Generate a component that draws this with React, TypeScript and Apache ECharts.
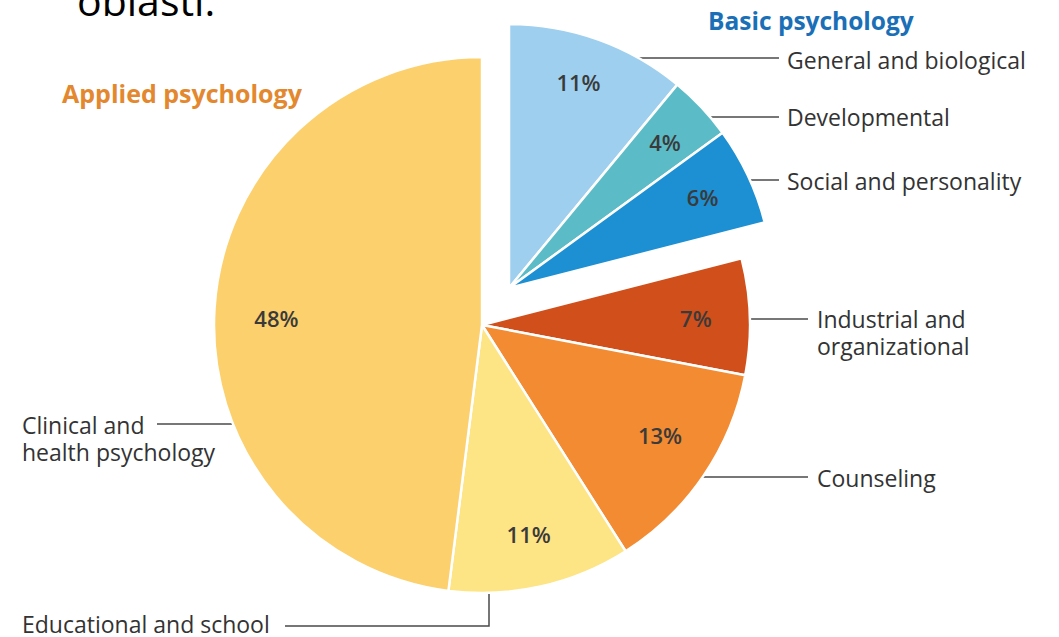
import React, { useEffect, useRef } from "react";
import * as echarts from "echarts";

// ---- data ----
const categories = [
  "General and biological",
  "Developmental",
  "Social and personality",
  "Industrial and organizational",
  "Counseling",
  "Educational and school",
  "Clinical and health psychology",
];
const groups = ["basic", "basic", "basic", "applied", "applied", "applied", "applied"];
const values = [11, 4, 6, 7, 13, 11, 48];
const sliceColors = ["#9ecfee", "#5bbcc7", "#1d8fd3", "#d04f1b", "#f28b32", "#fde485", "#fcd06d"];
const groupTitles = ["Basic psychology", "Applied psychology"];

const FONT = "'Open Sans', 'Noto Sans', sans-serif";
const TXT = "#333333";
const LINE = "#4a4a4a";

const APPLIED_CENTER = [482, 325];
const BASIC_CENTER = [509, 288];
const labelOffsets: Record<number, number[]> = { 4: [1, -10], 6: [8, 6], 0: [-3, -5] };

function pieData(group: string, visible: boolean, withLabel: boolean) {
  return categories.map((name, i) => {
    const mine = groups[i] === group;
    return {
      name,
      value: values[i],
      itemStyle:
        mine && visible
          ? { color: sliceColors[i], borderColor: "#ffffff", borderWidth: 2.5 }
          : { color: "rgba(0,0,0,0)", borderWidth: 0 },
      label: withLabel && mine ? { show: true, offset: labelOffsets[i] || [0, 0] } : { show: false },
    };
  });
}

export default function App() {
  const ref = useRef<HTMLDivElement>(null);
  useEffect(() => {
    if (!ref.current) return;
    const chart = echarts.init(ref.current, undefined, { renderer: "svg" });
    const commonPie = {
      type: "pie",
      startAngle: 90,
      clockwise: true,
      silent: true,
      avoidLabelOverlap: false,
      labelLine: { show: false },
      emphasis: { disabled: true },
    };
    const pctLabel = {
      show: true,
      position: "inside",
      formatter: "{c}%",
      fontFamily: FONT,
      fontSize: 22,
      fontWeight: 600,
      color: "#3a3a3a",
    };
    const text = (x: number, y: number, t: string, extra: any = {}) => ({
      type: "text",
      x,
      y,
      silent: true,
      style: {
        text: t,
        fontFamily: FONT,
        fontSize: 23,
        fill: TXT,
        textVerticalAlign: "middle",
        verticalAlign: "middle",
        lineHeight: 24,
        ...extra,
      },
    });
    const line = (x1: number, y1: number, x2: number, y2: number) => ({
      type: "line",
      silent: true,
      shape: { x1, y1, x2, y2 },
      style: { stroke: LINE, lineWidth: 1.5 },
    });
    chart.setOption({
      animation: false,
      backgroundColor: "#ffffff",
      series: [
        { ...commonPie, center: APPLIED_CENTER, radius: 268, label: { show: false }, data: pieData("applied", true, false) },
        { ...commonPie, center: BASIC_CENTER, radius: 264, label: { show: false }, data: pieData("basic", true, false) },
        { ...commonPie, center: APPLIED_CENTER, radius: [154, 268], label: pctLabel, data: pieData("applied", false, true) },
        { ...commonPie, center: BASIC_CENTER, radius: [158, 264], label: pctLabel, data: pieData("basic", false, true) },
      ],
      graphic: [
        text(77, 0, "oblasti.", { fontSize: 41, fill: "#000000", lineHeight: 44 }),
        text(708, 20, groupTitles[0], { fontSize: 24.5, fontWeight: "bold", fill: "#1a6fb7" }),
        text(62, 93, groupTitles[1], { fontSize: 25, fontWeight: "bold", fill: "#e3882e" }),
        text(787, 60, "General and biological"),
        text(787, 117, "Developmental"),
        text(787, 181, "Social and personality"),
        text(817, 319, "Industrial and"),
        text(817, 346, "organizational"),
        text(817, 478, "Counseling"),
        text(22, 425, "Clinical and"),
        text(22, 452, "health psychology"),
        text(22, 624, "Educational and school", { lineHeight: 22 }),
        line(600, 58, 779, 58),
        line(692, 117, 779, 117),
        line(737, 180, 779, 180),
        line(737, 319, 808, 319),
        line(687, 477, 808, 477),
        line(157, 424, 277, 424),
        {
          type: "polyline",
          silent: true,
          shape: { points: [[285, 626], [489, 626], [489, 568]] },
          style: { stroke: LINE, lineWidth: 1.5, fill: "none" },
        },
      ],
    });
    return () => chart.dispose();
  }, []);
  return (
    <div
      ref={ref}
      style={{ position: "fixed", left: 0, top: 0, width: "1059px", height: "637px", background: "#fff" }}
    />
  );
}
